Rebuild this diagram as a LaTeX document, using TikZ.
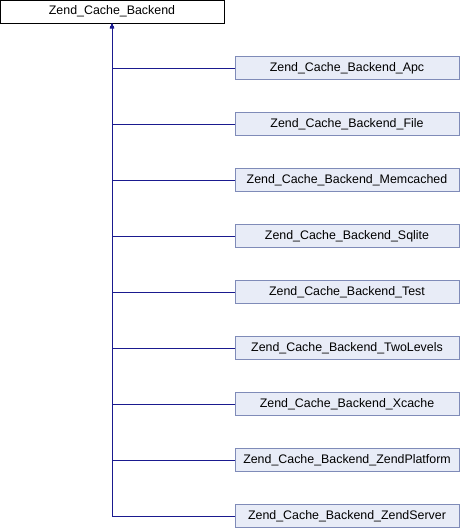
\documentclass[tikz,border=0pt]{standalone}
\usepackage{fontspec}
\setmainfont{Liberation Sans}
\usetikzlibrary{arrows.meta}
\definecolor{edgeblue}{HTML}{1A1A8F}
\definecolor{boxborder}{HTML}{7F8BB8}
\definecolor{boxfill}{HTML}{E8ECF7}

\begin{document}
\begin{tikzpicture}[x=1pt, y=-1pt,
  baseclass/.style={rectangle, minimum width=224pt, minimum height=23pt, draw=black, fill=white, inner sep=0pt, outer sep=0pt, font=\fontsize{12.4}{14}\selectfont},
  subclass/.style={baseclass, draw=boxborder, fill=boxfill},
  inherit/.style={-{Latex[length=5pt, width=4.5pt]}, edgeblue, line width=1pt}]
\useasboundingbox (0,0) rectangle (460,528);

\node[baseclass] (backend) at (112,11.5) {Zend\_Cache\_Backend};

% derived backends
\foreach \name [count=\i from 0] in {Apc, File, Memcached, Sqlite, Test, TwoLevels, Xcache, ZendPlatform, ZendServer} {
  \node[subclass] (\name) at (347,68+56*\i) {Zend\_Cache\_Backend\_\name};
  \draw[inherit] (\name.west) -| (backend.south);
}
\end{tikzpicture}
\end{document}
